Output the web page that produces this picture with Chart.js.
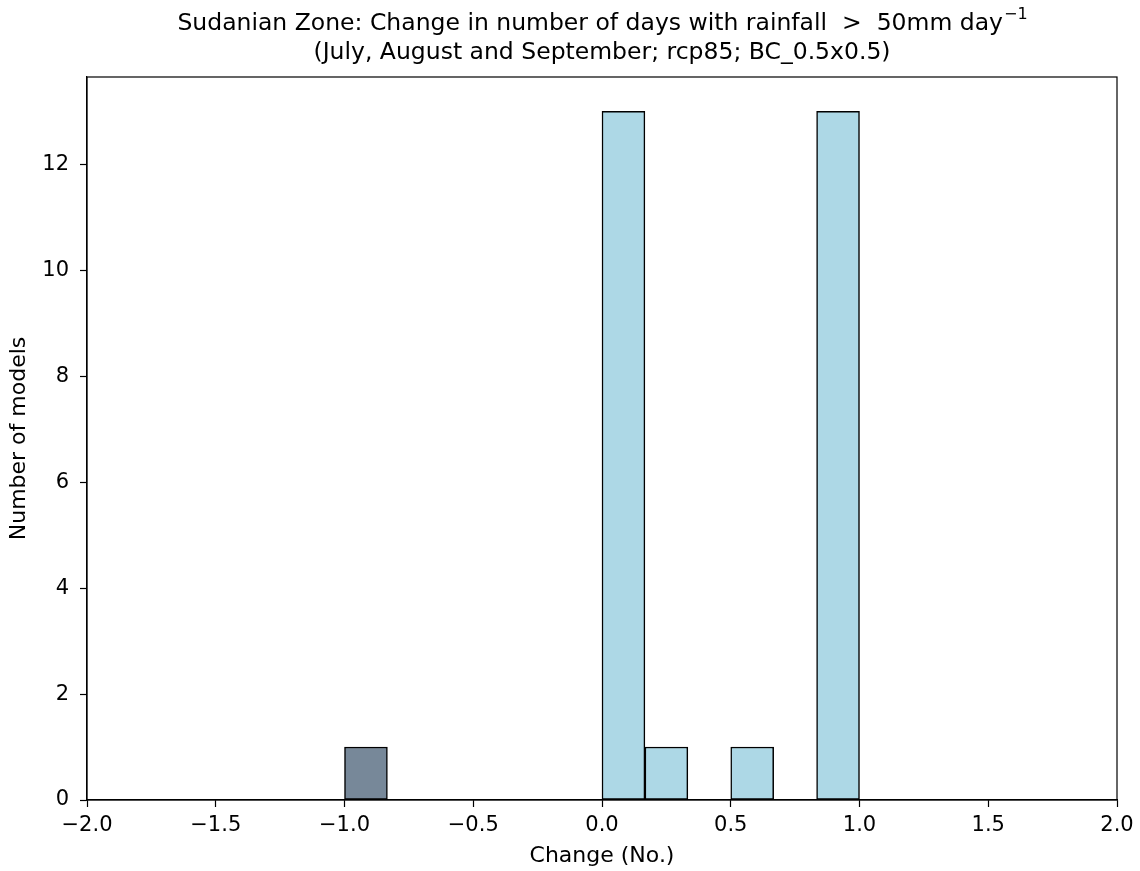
<!DOCTYPE html>
<html>
<head>
<meta charset="utf-8">
<script src="https://cdn.jsdelivr.net/npm/chart.js@4"></script>
<style>
  html, body { margin: 0; padding: 0; background: #fff; }
  #wrap { width: 1140px; height: 871px; }
</style>
</head>
<body>
<div id="wrap"><canvas id="hist"></canvas></div>
<script>
// histogram bins (centres of 1/6-wide bins from -1 to 1)
const binCentres = [-0.9167, -0.75, -0.5833, -0.4167, -0.25, -0.0833, 0.0833, 0.25, 0.4167, 0.5833, 0.75, 0.9167];
const modelCounts = [1, 0, 0, 0, 0, 0, 13, 1, 0, 1, 0, 13];
const barColours = ['#778899', '#add8e6', '#add8e6', '#add8e6', '#add8e6', '#add8e6', '#add8e6', '#add8e6', '#add8e6', '#add8e6', '#add8e6', '#add8e6'];
const xTicks = [-2, -1.5, -1, -0.5, 0, 0.5, 1, 1.5, 2];
const yTicks = [0, 2, 4, 6, 8, 10, 12];
const titleLines = ['Sudanian Zone: Change in number of days with rainfall  >  50mm day', '(July, August and September; rcp85; BC_0.5x0.5)'];

const FONT = '"DejaVu Sans", sans-serif';

// title with superscript + frame round the axes
const extras = {
  id: 'extras',
  afterDraw(chart) {
    const ctx = chart.ctx;
    const a = chart.chartArea;
    const cx = (a.left + a.right) / 2;
    ctx.save();
    ctx.fillStyle = '#000';
    ctx.textBaseline = 'alphabetic';
    ctx.font = '23.5px ' + FONT;
    const w1 = ctx.measureText(titleLines[0]).width;
    ctx.font = '16px ' + FONT;
    const ws = ctx.measureText('\u22121').width;
    const start = cx - (w1 + ws) / 2;
    ctx.textAlign = 'left';
    ctx.font = '23.5px ' + FONT;
    ctx.fillText(titleLines[0], start, 30);
    ctx.font = '16px ' + FONT;
    ctx.fillText('\u22121', start + w1 + 1, 19);
    ctx.font = '23.5px ' + FONT;
    ctx.textAlign = 'center';
    ctx.fillText(titleLines[1], cx, 59);
    ctx.strokeStyle = '#000';
    ctx.lineWidth = 1.2;
    ctx.strokeRect(a.left, a.top, a.right - a.left, a.bottom - a.top);
    ctx.restore();
  }
};

const fmt = v => (v < 0 ? '\u2212' : '') + Math.abs(v).toFixed(1);

new Chart(document.getElementById('hist'), {
  type: 'bar',
  data: {
    datasets: [{
      data: binCentres.map((c, i) => ({ x: c, y: modelCounts[i] })),
      backgroundColor: barColours,
      borderColor: '#000',
      borderWidth: 1.5,
      borderSkipped: false,
      barPercentage: 1,
      categoryPercentage: 1
    }]
  },
  options: {
    responsive: true,
    maintainAspectRatio: false,
    animation: false,
    layout: { padding: { left: 0, right: 23, top: 77, bottom: 0 } },
    plugins: { legend: { display: false }, tooltip: { enabled: false } },
    scales: {
      x: {
        type: 'linear',
        offset: false,
        min: -2,
        max: 2,
        afterFit: s => { s.height = 71; },
        afterBuildTicks: s => { s.ticks = xTicks.map(v => ({ value: v })); },
        grid: { offset: false, drawOnChartArea: false, drawTicks: true, tickLength: 7, tickColor: '#000', tickWidth: 1.2 },
        border: { color: '#000', width: 1.2 },
        ticks: { color: '#000', font: { family: FONT, size: 21 }, padding: 6, maxRotation: 0, callback: v => fmt(v) },
        title: { display: true, text: 'Change (No.)', color: '#000', font: { family: FONT, size: 22 }, padding: { top: 2, bottom: 2 } }
      },
      y: {
        min: 0,
        max: 13.65,
        afterFit: s => { s.width = 87; },
        afterBuildTicks: s => { s.ticks = yTicks.map(v => ({ value: v })); },
        grid: { drawOnChartArea: false, drawTicks: true, tickLength: 7, tickColor: '#000', tickWidth: 1.2 },
        border: { color: '#000', width: 1.2 },
        ticks: { color: '#000', font: { family: FONT, size: 21 }, padding: 11 },
        title: { display: true, text: 'Number of models', color: '#000', font: { family: FONT, size: 22 }, padding: { top: 6, bottom: 4 } }
      }
    }
  },
  plugins: [extras]
});
</script>
</body>
</html>
